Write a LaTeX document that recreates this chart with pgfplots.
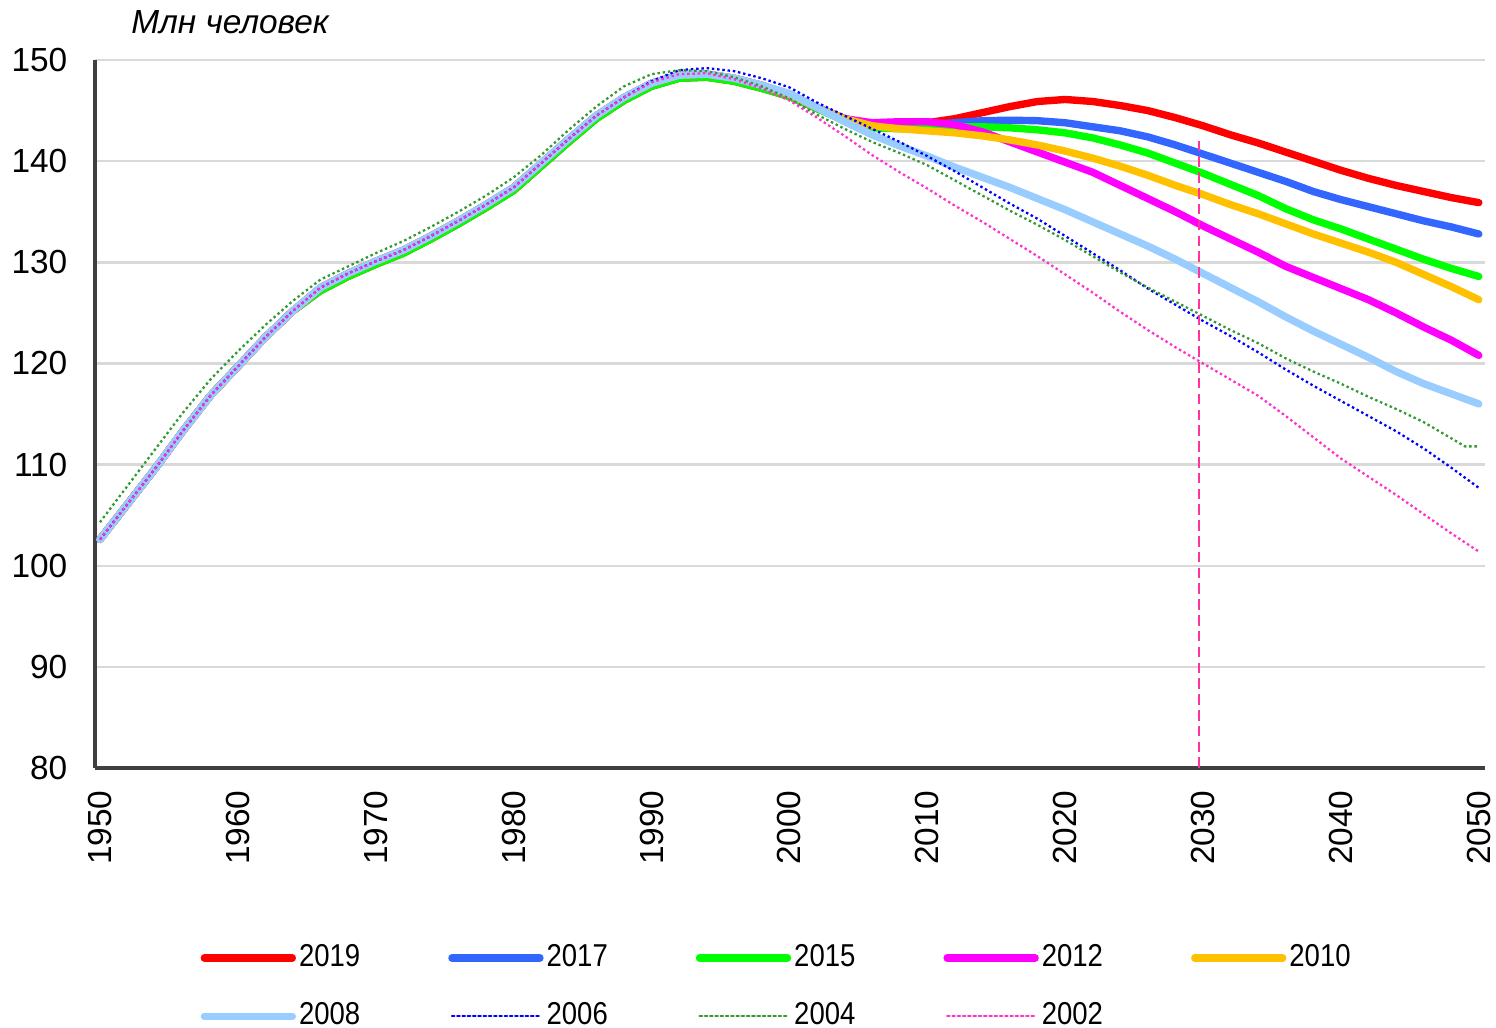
\documentclass[border=0pt]{standalone}
\usepackage{fontspec}
\setmainfont{Liberation Sans}
\usepackage{graphicx}
\usepackage{pgfplots}
\pgfplotsset{compat=1.18}
\definecolor{cA}{HTML}{FF0000}
\definecolor{cB}{HTML}{3366FF}
\definecolor{cC}{HTML}{00FF00}
\definecolor{cD}{HTML}{FF00FF}
\definecolor{cE}{HTML}{FFC000}
\definecolor{cF}{HTML}{99CCFF}
\definecolor{cG}{HTML}{0000FF}
\definecolor{cH}{HTML}{339933}
\definecolor{cI}{HTML}{FF33CC}
\definecolor{vline}{HTML}{FF3399}
\definecolor{gridc}{HTML}{D9D9D9}
\definecolor{axisc}{HTML}{404040}
\begin{document}
\begin{tikzpicture}
\useasboundingbox (0,0) rectangle (14.96,10.27);
\begin{axis}[
  at={(0.95cm,2.59cm)}, anchor=south west,
  scale only axis, width=13.90cm, height=7.08cm,
  xmin=1949.64, xmax=2050.45, ymin=80, ymax=150,
  xtick={1950,1960,...,2050}, ytick={80,90,...,150},
  axis x line=bottom, axis y line=left,
  axis line style={-, draw=axisc, line width=0.9pt},
  major tick length=0pt,
  ymajorgrids, grid style={draw=gridc, line width=0.7pt},
  tick label style={font=\fontsize{9.5}{11}\selectfont},
  /pgf/number format/assume math mode=true,
  /pgf/number format/1000 sep={},
  xticklabel style={rotate=90, anchor=east, inner sep=0pt},
  yticklabel style={anchor=east, inner sep=0pt},
  xticklabel shift=0.22cm, yticklabel shift=0.27cm,
  legend columns=5,
  legend image code/.code={\draw[#1, line cap=round] (0cm,0cm) -- (0.88cm,0cm);},
  legend style={at={(axis description cs:0.0755,-0.248)}, anchor=north west,
    draw=none, fill=none, inner sep=0pt,
    font=\fontsize{9}{10}\selectfont, nodes={inner sep=0pt},
    row sep=0.31cm,
    /tikz/every odd column/.append style={column sep=0.03cm},
    /tikz/every even column/.append style={column sep=0.88cm}},
  legend cell align=left,
  thick line/.style={line width=2.1pt, line join=round, line cap=round},
  dot line/.style={line width=0.65pt, dash pattern=on 0.7pt off 0.8pt},
]
% 2019
\addplot[thick line, color=cA] coordinates {
(1950,102.6)(1952,106.1)(1954,109.6)(1956,113.3)(1958,116.8)(1960,119.7)(1962,122.6)(1964,125.2)
(1966,127.2)(1968,128.6)(1970,129.8)(1972,130.9)(1974,132.3)(1976,133.8)(1978,135.4)(1980,137.1)
(1982,139.5)(1984,141.9)(1986,144.2)(1988,146.0)(1990,147.4)(1992,148.2)(1994,148.3)(1996,147.9)
(1998,147.2)(2000,146.4)(2002,145.2)(2004,144.2)(2006,143.6)(2008,143.5)(2010,143.8)(2012,144.2)
(2014,144.8)(2016,145.4)(2018,145.9)(2020,146.1)(2022,145.9)(2024,145.5)(2026,145.0)(2028,144.3)
(2030,143.5)(2032,142.6)(2034,141.8)(2036,140.9)(2038,140.0)(2040,139.1)(2042,138.3)(2044,137.6)
(2046,137.0)(2048,136.4)(2050,135.9)};
\addlegendentry{\scalebox{0.87}[1]{2019}}
% 2017
\addplot[thick line, color=cB] coordinates {
(1950,102.6)(1952,106.1)(1954,109.6)(1956,113.3)(1958,116.8)(1960,119.7)(1962,122.6)(1964,125.2)
(1966,127.5)(1968,128.9)(1970,130.1)(1972,131.2)(1974,132.6)(1976,134.1)(1978,135.7)(1980,137.4)
(1982,139.8)(1984,142.2)(1986,144.5)(1988,146.3)(1990,147.7)(1992,148.5)(1994,148.6)(1996,148.2)
(1998,147.5)(2000,146.6)(2002,145.3)(2004,144.2)(2006,143.6)(2008,143.5)(2010,143.6)(2012,143.8)
(2014,144.0)(2016,144.05)(2018,144.0)(2020,143.8)(2022,143.4)(2024,143.0)(2026,142.4)(2028,141.6)
(2030,140.7)(2032,139.8)(2034,138.9)(2036,138.0)(2038,137.0)(2040,136.2)(2042,135.5)(2044,134.8)
(2046,134.1)(2048,133.5)(2050,132.8)};
\addlegendentry{\scalebox{0.87}[1]{2017}}
% 2015
\addplot[thick line, color=cC] coordinates {
(1950,102.6)(1952,106.1)(1954,109.6)(1956,113.3)(1958,116.8)(1960,119.7)(1962,122.6)(1964,125.2)
(1966,127.2)(1968,128.6)(1970,129.8)(1972,130.9)(1974,132.3)(1976,133.8)(1978,135.4)(1980,137.1)
(1982,139.5)(1984,141.9)(1986,144.2)(1988,146.0)(1990,147.4)(1992,148.2)(1994,148.3)(1996,147.9)
(1998,147.2)(2000,146.4)(2002,145.2)(2004,144.0)(2006,143.3)(2008,143.2)(2010,143.3)(2012,143.4)
(2014,143.4)(2016,143.3)(2018,143.1)(2020,142.8)(2022,142.3)(2024,141.6)(2026,140.8)(2028,139.8)
(2030,138.8)(2032,137.7)(2034,136.6)(2036,135.3)(2038,134.2)(2040,133.3)(2042,132.3)(2044,131.3)
(2046,130.3)(2048,129.4)(2050,128.6)};
\addlegendentry{\scalebox{0.87}[1]{2015}}
% 2012
\addplot[thick line, color=cD] coordinates {
(1950,102.6)(1952,106.1)(1954,109.6)(1956,113.3)(1958,116.8)(1960,119.7)(1962,122.6)(1964,125.2)
(1966,127.5)(1968,128.9)(1970,130.1)(1972,131.2)(1974,132.6)(1976,134.1)(1978,135.7)(1980,137.4)
(1982,139.8)(1984,142.2)(1986,144.5)(1988,146.3)(1990,147.7)(1992,148.5)(1994,148.6)(1996,148.2)
(1998,147.5)(2000,146.6)(2002,145.3)(2004,144.2)(2006,143.8)(2008,143.9)(2010,143.9)(2012,143.6)
(2014,142.9)(2016,141.9)(2018,140.9)(2020,139.9)(2022,138.9)(2024,137.6)(2026,136.3)(2028,135.0)
(2030,133.6)(2032,132.3)(2034,131.0)(2036,129.6)(2038,128.5)(2040,127.4)(2042,126.3)(2044,125.0)
(2046,123.6)(2048,122.3)(2050,120.8)};
\addlegendentry{\scalebox{0.87}[1]{2012}}
% 2010
\addplot[thick line, color=cE] coordinates {
(1950,102.6)(1952,106.1)(1954,109.6)(1956,113.3)(1958,116.8)(1960,119.7)(1962,122.6)(1964,125.2)
(1966,127.5)(1968,128.9)(1970,130.1)(1972,131.2)(1974,132.6)(1976,134.1)(1978,135.7)(1980,137.4)
(1982,139.8)(1984,142.2)(1986,144.5)(1988,146.3)(1990,147.7)(1992,148.5)(1994,148.6)(1996,148.2)
(1998,147.5)(2000,146.6)(2002,145.3)(2004,144.2)(2006,143.5)(2008,143.2)(2010,143.0)(2012,142.8)
(2014,142.5)(2016,142.1)(2018,141.6)(2020,141.0)(2022,140.3)(2024,139.5)(2026,138.6)(2028,137.6)
(2030,136.7)(2032,135.7)(2034,134.8)(2036,133.8)(2038,132.8)(2040,131.9)(2042,131.0)(2044,130.0)
(2046,128.8)(2048,127.6)(2050,126.3)};
\addlegendentry{\scalebox{0.87}[1]{2010}}
% 2008
\addplot[thick line, color=cF] coordinates {
(1950,102.6)(1952,106.1)(1954,109.6)(1956,113.3)(1958,116.8)(1960,119.7)(1962,122.6)(1964,125.2)
(1966,127.5)(1968,128.9)(1970,130.1)(1972,131.2)(1974,132.6)(1976,134.1)(1978,135.7)(1980,137.4)
(1982,139.8)(1984,142.2)(1986,144.5)(1988,146.3)(1990,147.7)(1992,148.5)(1994,148.6)(1996,148.2)
(1998,147.5)(2000,146.7)(2002,145.3)(2004,143.9)(2006,142.6)(2008,141.5)(2010,140.5)(2012,139.4)
(2014,138.4)(2016,137.4)(2018,136.3)(2020,135.2)(2022,134.0)(2024,132.8)(2026,131.6)(2028,130.3)
(2030,128.9)(2032,127.5)(2034,126.1)(2036,124.6)(2038,123.2)(2040,121.9)(2042,120.6)(2044,119.2)
(2046,118.0)(2048,117.0)(2050,116.0)};
\addlegendentry{\scalebox{0.87}[1]{2008}}
% 2006
\addplot[dot line, color=cG] coordinates {
(1950,102.6)(1952,106.1)(1954,109.6)(1956,113.3)(1958,116.8)(1960,119.7)(1962,122.6)(1964,125.2)
(1966,127.5)(1968,128.9)(1970,130.1)(1972,131.2)(1974,132.6)(1976,134.1)(1978,135.7)(1980,137.4)
(1982,139.8)(1984,142.2)(1986,144.5)(1988,146.3)(1990,147.9)(1992,149.0)(1994,149.2)(1996,148.9)
(1998,148.2)(2000,147.3)(2002,145.8)(2004,144.5)(2006,143.2)(2008,141.9)(2010,140.5)(2012,139.0)
(2014,137.4)(2016,135.8)(2018,134.3)(2020,132.6)(2022,130.9)(2024,129.2)(2026,127.4)(2028,125.8)
(2030,124.2)(2032,122.7)(2034,121.1)(2036,119.4)(2038,117.8)(2040,116.3)(2042,114.8)(2044,113.3)
(2046,111.6)(2048,109.7)(2050,107.7)};
\addlegendentry{\scalebox{0.87}[1]{2006}}
% 2004
\addplot[dot line, color=cH] coordinates {
(1950,104.3)(1952,107.9)(1954,111.5)(1956,115.1)(1958,118.4)(1960,121.2)(1962,123.8)(1964,126.2)
(1966,128.3)(1968,129.6)(1970,130.9)(1972,132.1)(1974,133.5)(1976,135.0)(1978,136.6)(1980,138.4)
(1982,140.6)(1984,143.1)(1986,145.4)(1988,147.4)(1990,148.6)(1992,149.0)(1994,148.9)(1996,148.3)
(1998,147.4)(2000,146.2)(2002,144.6)(2004,143.2)(2006,141.9)(2008,140.8)(2010,139.6)(2012,138.1)
(2014,136.6)(2016,135.1)(2018,133.7)(2020,132.2)(2022,130.6)(2024,129.0)(2026,127.5)(2028,126.1)
(2030,124.7)(2032,123.3)(2034,122.0)(2036,120.5)(2038,119.2)(2040,118.0)(2042,116.7)(2044,115.5)
(2046,114.2)(2048,112.6)(2049,111.8)(2050,111.8)};
\addlegendentry{\scalebox{0.87}[1]{2004}}
% 2002
\addplot[dot line, color=cI] coordinates {
(1950,102.6)(1952,106.1)(1954,109.6)(1956,113.3)(1958,116.8)(1960,119.7)(1962,122.6)(1964,125.2)
(1966,127.5)(1968,128.9)(1970,130.1)(1972,131.2)(1974,132.6)(1976,134.1)(1978,135.7)(1980,137.4)
(1982,139.8)(1984,142.2)(1986,144.5)(1988,146.3)(1990,147.8)(1992,148.6)(1994,148.7)(1996,148.1)
(1998,147.2)(2000,146.0)(2002,144.3)(2004,142.5)(2006,140.6)(2008,138.9)(2010,137.3)(2012,135.6)
(2014,134.0)(2016,132.3)(2018,130.6)(2020,128.8)(2022,127.0)(2024,125.1)(2026,123.3)(2028,121.6)
(2030,120.0)(2032,118.4)(2034,116.8)(2036,114.8)(2038,112.7)(2040,110.6)(2042,108.8)(2044,107.0)
(2046,105.1)(2048,103.2)(2050,101.4)};
\addlegendentry{\scalebox{0.87}[1]{2002}}
% vertical marker at 2030
\addplot[color=vline, line width=0.6pt, dash pattern=on 3pt off 1.5pt, forget plot]
  coordinates {(2029.7,80) (2029.7,142.1)};
\end{axis}
\node[font=\fontsize{9.5}{11}\selectfont\itshape] at (2.30,10.05) {Млн человек};
\end{tikzpicture}
\end{document}
